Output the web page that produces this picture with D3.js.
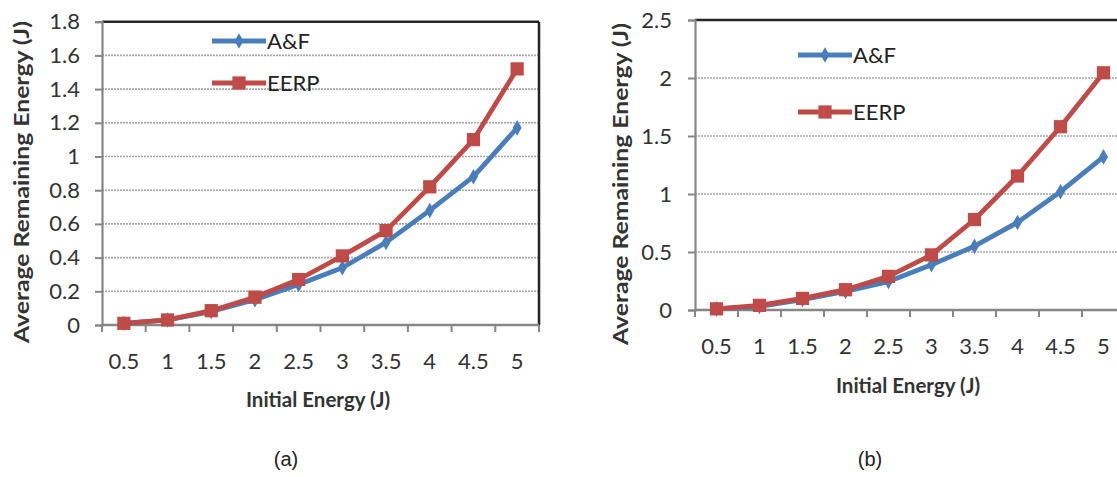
<!DOCTYPE html>
<html>
<head>
<meta charset="utf-8">
<script src="https://cdn.jsdelivr.net/npm/d3@7"></script>
<style>
  html, body { margin: 0; padding: 0; background: #ffffff; }
  svg { display: block; }
</style>
</head>
<body>
<svg id="chart" width="1117" height="477"></svg>
<script>
// ---------------- DATA ----------------
const categories = ["0.5", "1", "1.5", "2", "2.5", "3", "3.5", "4", "4.5", "5"];
const seriesNames = ["A&F", "EERP"];

// Panel (a)
const afA   = [0.01, 0.03, 0.08, 0.15, 0.24, 0.34, 0.49, 0.68, 0.88, 1.17];
const eerpA = [0.01, 0.03, 0.085, 0.165, 0.27, 0.41, 0.56, 0.82, 1.10, 1.52];
const yTicksA = [0, 0.2, 0.4, 0.6, 0.8, 1, 1.2, 1.4, 1.6, 1.8];

// Panel (b)
const afB   = [0.01, 0.03, 0.09, 0.16, 0.245, 0.39, 0.55, 0.755, 1.02, 1.32];
const eerpB = [0.01, 0.04, 0.10, 0.175, 0.29, 0.475, 0.78, 1.155, 1.58, 2.045];
const yTicksB = [0, 0.5, 1, 1.5, 2, 2.5];

const xTitle = "Initial Energy (J)";
const yTitle = "Average Remaining Energy (J)";
const panelLabels = ["(a)", "(b)"];

// ---------------- STYLE ----------------
const BLUE = "#4a7ebb";
const RED = "#be4b48";
const FONT = "Lato, 'Open Sans', sans-serif";

const svg = d3.select("#chart");

function drawPanel(cfg) {
  const g = svg.append("g");
  const x = d3.scaleBand().domain(categories).range([cfg.left, cfg.right]);
  const y = d3.scaleLinear().domain([0, cfg.yMax]).range([cfg.bottom, cfg.top]);

  // gridlines
  g.append("g").selectAll("line")
    .data(cfg.yTicks.filter(v => v > 0 && v < cfg.yMax))
    .join("line")
    .attr("x1", cfg.left).attr("x2", cfg.right)
    .attr("y1", d => y(d)).attr("y2", d => y(d))
    .attr("stroke", "#a6a6a6").attr("stroke-width", 1.6)
    .attr("stroke-dasharray", "2,1");

  // top border (black) and right border
  g.append("line")
    .attr("x1", cfg.left).attr("x2", cfg.right)
    .attr("y1", y(cfg.yMax)).attr("y2", y(cfg.yMax))
    .attr("stroke", "#262626").attr("stroke-width", 2.5);
  g.append("line")
    .attr("x1", cfg.right).attr("x2", cfg.right)
    .attr("y1", y(cfg.yMax)).attr("y2", y(0))
    .attr("stroke", "#262626").attr("stroke-width", 2.5);

  // y axis
  const yAxis = d3.axisLeft(y).tickValues(cfg.yTicks)
    .tickFormat(d3.format("~g")).tickSize(7).tickPadding(cfg.yPad);
  const ya = g.append("g").attr("transform", `translate(${cfg.left},0)`).call(yAxis);
  ya.select(".domain").attr("stroke", "#868686").attr("stroke-width", 2.2);
  ya.selectAll(".tick line").attr("stroke", "#868686").attr("stroke-width", 2);
  ya.selectAll(".tick text").attr("font-family", FONT).attr("font-size", 22)
    .attr("fill", "#333");

  // x axis line
  g.append("line")
    .attr("x1", cfg.left).attr("x2", cfg.right)
    .attr("y1", y(0)).attr("y2", y(0))
    .attr("stroke", "#868686").attr("stroke-width", 2.5);
  // x tick marks at category boundaries
  const bounds = categories.map(c => x(c)).concat([x(categories[categories.length - 1]) + x.bandwidth()]);
  g.append("g").selectAll("line").data(bounds).join("line")
    .attr("x1", d => d).attr("x2", d => d)
    .attr("y1", y(0)).attr("y2", y(0) + 7)
    .attr("stroke", "#868686").attr("stroke-width", 2);
  // x tick labels
  g.append("g").selectAll("text").data(categories).join("text")
    .attr("x", d => x(d) + x.bandwidth() / 2)
    .attr("y", cfg.xLabelY)
    .attr("text-anchor", "middle")
    .attr("font-family", FONT).attr("font-size", 22).attr("fill", "#333")
    .text(d => d);

  // series
  const cx = c => x(c) + x.bandwidth() / 2;
  const line = d3.line().x((d, i) => cx(categories[i])).y(d => y(d));
  const series = [
    { name: seriesNames[0], values: cfg.af, color: BLUE, sym: d3.symbolDiamond, size: 70 },
    { name: seriesNames[1], values: cfg.eerp, color: RED, sym: d3.symbolSquare, size: 175 }
  ];
  series.forEach(s => {
    g.append("path").datum(s.values)
      .attr("d", line).attr("fill", "none")
      .attr("stroke", s.color).attr("stroke-width", 4.8)
      .attr("stroke-linejoin", "round");
    g.append("g").selectAll("path").data(s.values).join("path")
      .attr("transform", (d, i) => `translate(${cx(categories[i])},${y(d)})`)
      .attr("d", d3.symbol().type(s.sym).size(s.size))
      .attr("fill", s.color);
  });

  // legend
  series.forEach((s, i) => {
    const ly = cfg.legendY[i];
    g.append("line")
      .attr("x1", cfg.legendX).attr("x2", cfg.legendX + 54)
      .attr("y1", ly).attr("y2", ly)
      .attr("stroke", s.color).attr("stroke-width", 4.8);
    g.append("path")
      .attr("transform", `translate(${cfg.legendX + 27},${ly})`)
      .attr("d", d3.symbol().type(s.sym).size(s.size))
      .attr("fill", s.color);
    g.append("text")
      .attr("x", cfg.legendX + 55).attr("y", ly + 8)
      .attr("font-family", FONT).attr("font-size", 22).attr("fill", "#222")
      .text(s.name);
  });

  // axis titles
  g.append("text")
    .attr("x", cfg.xTitleX).attr("y", cfg.xTitleY)
    .attr("text-anchor", "middle")
    .attr("font-family", FONT).attr("font-size", 20.5).attr("font-weight", "bold")
    .attr("fill", "#333")
    .text(xTitle);
  g.append("text")
    .attr("transform", `translate(${cfg.yTitleX},${cfg.yTitleY}) rotate(-90)`)
    .attr("text-anchor", "middle").attr("dominant-baseline", "central")
    .attr("font-family", FONT).attr("font-size", 20.5).attr("font-weight", "bold")
    .attr("fill", "#333")
    .attr("textLength", 322).attr("lengthAdjust", "spacingAndGlyphs")
    .text(yTitle);

  // panel label
  g.append("text")
    .attr("x", cfg.labelX).attr("y", 466)
    .attr("text-anchor", "middle")
    .attr("font-family", "'Liberation Sans', Arial, sans-serif").attr("font-size", 20)
    .attr("fill", "#222")
    .text(cfg.label);
}

drawPanel({
  left: 102, right: 539,
  top: 21.7, bottom: 325, yMax: 1.8, yTicks: yTicksA, yPad: 15,
  af: afA, eerp: eerpA,
  xLabelY: 369, xTitleX: 318, xTitleY: 407,
  yTitleX: 21, yTitleY: 182,
  legendX: 212, legendY: [41, 83],
  labelX: 286, label: panelLabels[0]
});

drawPanel({
  left: 695, right: 1125,
  top: 20, bottom: 310, yMax: 2.5, yTicks: yTicksB, yPad: 16,
  af: afB, eerp: eerpB,
  xLabelY: 354, xTitleX: 908, xTitleY: 393,
  yTitleX: 620, yTitleY: 184,
  legendX: 798, legendY: [55, 112],
  labelX: 870, label: panelLabels[1]
});
</script>
</body>
</html>
